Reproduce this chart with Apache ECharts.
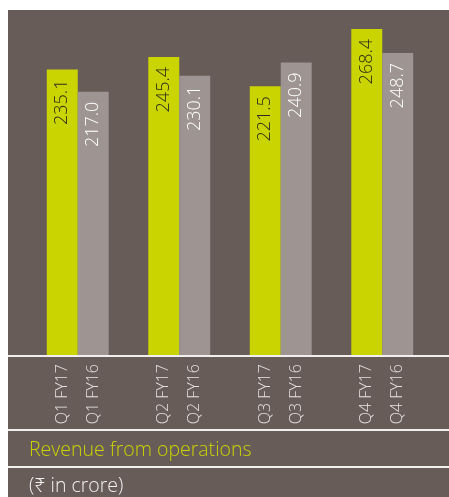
<!DOCTYPE html>
<html>
<head>
<meta charset="utf-8">
<script src="https://cdn.jsdelivr.net/npm/echarts@6/dist/echarts.min.js"></script>
<style>
  html, body { margin: 0; padding: 0; background: #fff; }
  #chart { width: 449px; height: 497px; }
</style>
</head>
<body>
<div id="chart"></div>
<script>
// data
const quarters = ["Q1", "Q2", "Q3", "Q4"];
const fy17Labels = ["Q1 FY17", "Q2 FY17", "Q3 FY17", "Q4 FY17"];
const fy16Labels = ["Q1 FY16", "Q2 FY16", "Q3 FY16", "Q4 FY16"];
const fy17 = [235.1, 245.4, 221.5, 268.4];
const fy16 = [217.0, 230.1, 240.9, 248.7];

const BROWN = "#675c58";
const GREEN = "#cad400";
const GREY = "#9e9491";
const LINE = "#f2f0ef";
const FONT = "'Open Sans', 'Noto Sans', sans-serif";

const chart = echarts.init(document.getElementById("chart"));

// white separator lines across the panel
const hLine = (y) => ({
  type: "line",
  z: 100,
  shape: { x1: 8, y1: y, x2: 449, y2: y },
  style: { stroke: LINE, lineWidth: 2 },
});

const valueLabel = (color) => ({
  show: true,
  position: "insideTop",
  rotate: 90,
  align: "right",
  verticalAlign: "middle",
  distance: 10,
  color: color,
  fontFamily: FONT,
  fontWeight: 300,
  fontSize: 18,
  formatter: (p) => p.value.toFixed(1),
});

// per-bar labels under the axis; with the 90deg turn, verticalAlign
// pushes the text half a line to the left (bottom) or right (top)
const barAxis = (labels, vAlign) => ({
  type: "category",
  data: quarters,
  position: "bottom",
  offset: 0,
  axisLine: { show: false },
  axisTick: { show: false },
  axisLabel: {
    interval: 0,
    rotate: 90,
    margin: 8,
    align: "right",
    verticalAlign: vAlign,
    lineHeight: 31,
    color: "#e6e1df",
    fontFamily: FONT,
    fontWeight: 300,
    fontSize: 16,
    formatter: (v, i) => labels[i],
  },
});

const option = {
  backgroundColor: "#ffffff",
  animation: false,
  graphic: [
    {
      type: "rect",
      z: -10,
      shape: { x: 8, y: 10, width: 441, height: 487 },
      style: { fill: BROWN },
    },
    hLine(356),
    hLine(430),
    hLine(467),
  ],
  title: [
    {
      text: "Revenue from operations",
      left: 24,
      top: 435,
      textStyle: { color: GREEN, fontFamily: FONT, fontWeight: 300, fontSize: 19.5 },
    },
    {
      text: "(₹ in crore)",
      left: 24,
      top: 471,
      textStyle: { color: "#f2f0ef", fontFamily: FONT, fontWeight: 300, fontSize: 19.5 },
    },
  ],
  grid: { left: 27, right: 16, top: 10, bottom: 141 },
  xAxis: [barAxis(fy17Labels, "bottom"), barAxis(fy16Labels, "top")],
  yAxis: { type: "value", min: 0, max: 284, show: false },
  series: [
    {
      name: "FY17",
      type: "bar",
      xAxisIndex: 0,
      data: fy17,
      barGap: "0%",
      barCategoryGap: "39%",
      itemStyle: { color: GREEN },
      label: valueLabel("#2b2a1e"),
    },
    {
      name: "FY16",
      type: "bar",
      xAxisIndex: 0,
      data: fy16,
      itemStyle: { color: GREY },
      label: valueLabel("#ffffff"),
    },
  ],
};

chart.setOption(option);
</script>
</body>
</html>
